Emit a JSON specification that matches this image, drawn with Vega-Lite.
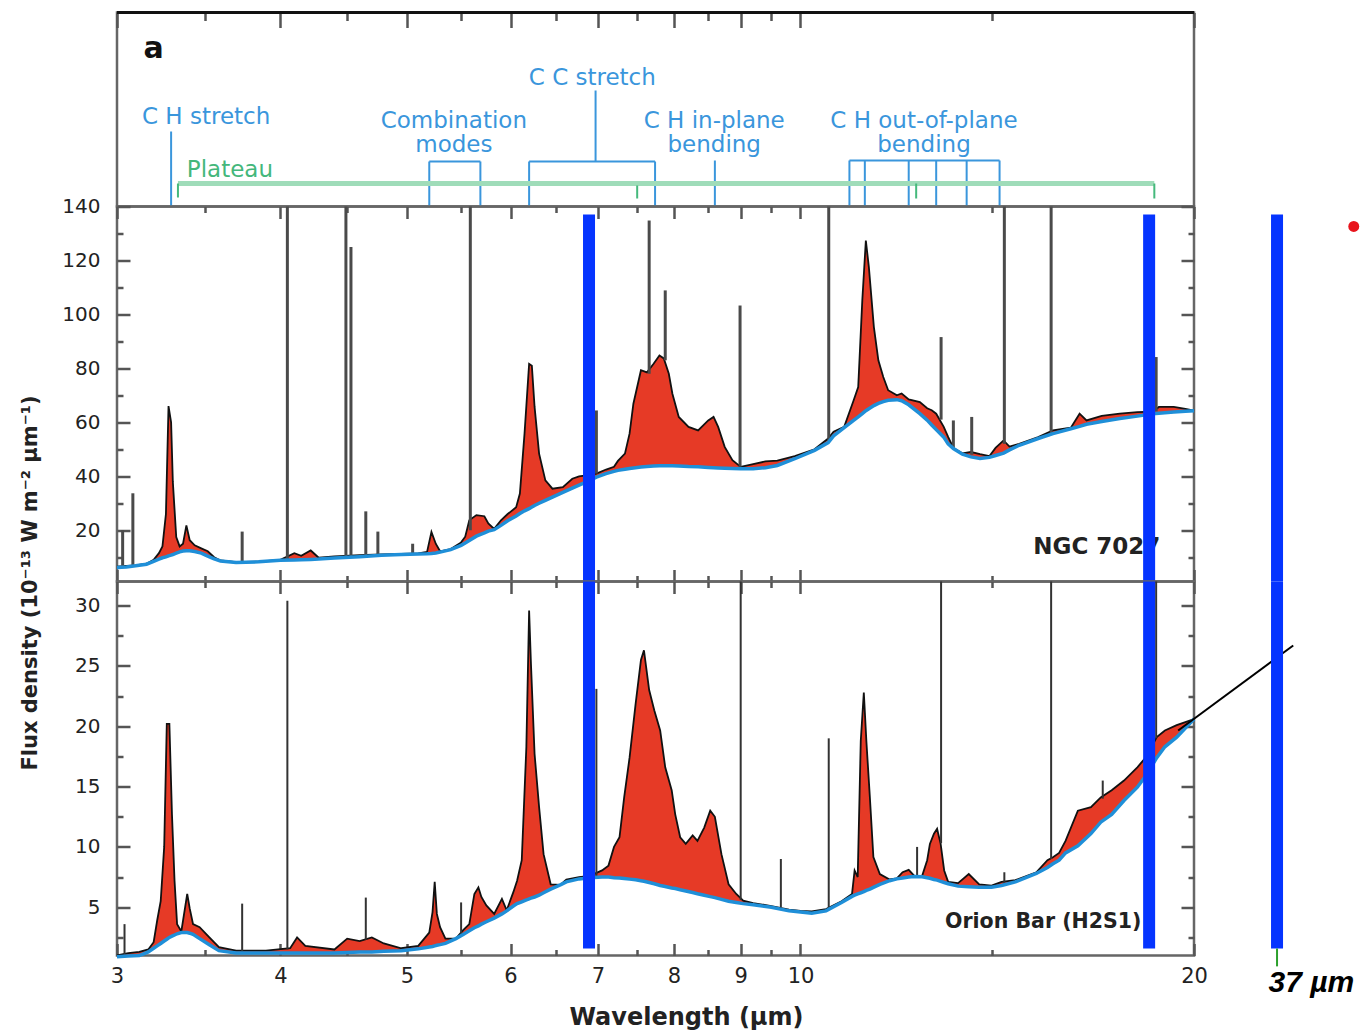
{
  "$schema": "https://vega.github.io/schema/vega-lite/v6.json",
  "padding": {"left": 17, "top": 9.5, "right": 0, "bottom": 0},
  "spacing": 0,
  "bounds": "flush",
  "resolve": {"scale": {"x": "independent", "y": "independent"}, "axis": {"x": "independent", "y": "independent"}},
  "config": {
    "view": {"stroke": "#666", "strokeWidth": 2.5},
    "axis": {"domain": false, "grid": false, "tickColor": "#555", "tickWidth": 2.5, "labelFont": "DejaVu Sans", "labelFontSize": 20, "labelColor": "#222", "titleFont": "DejaVu Sans", "titleFontWeight": "bold", "titleColor": "#222", "labelFlush": false, "labelOverlap": false},
    "text": {"font": "DejaVu Sans"}
  },
  "datasets": {
    "ngc": [
      {"w":3.00,"f":6.5,"c":6.2},{"w":3.05,"f":6.8,"c":6.4},{"w":3.10,"f":7.0,"c":6.8},{"w":3.16,"f":7.6,"c":7.4},
      {"w":3.20,"f":9.0,"c":8.5},{"w":3.23,"f":11.5,"c":9.3},{"w":3.25,"f":14,"c":9.8},{"w":3.27,"f":26,"c":10.1},
      {"w":3.285,"f":66,"c":10.5},{"w":3.30,"f":60,"c":10.8},{"w":3.31,"f":38,"c":11.0},{"w":3.33,"f":17.5,"c":11.5},
      {"w":3.35,"f":14,"c":12.0},{"w":3.37,"f":15,"c":12.3},{"w":3.39,"f":21.8,"c":12.4},{"w":3.41,"f":16.3,"c":12.4},
      {"w":3.44,"f":14.4,"c":12.1},{"w":3.48,"f":13.3,"c":11.5},{"w":3.52,"f":12.2,"c":10.4},{"w":3.56,"f":10.0,"c":9.4},
      {"w":3.60,"f":8.8,"c":8.6},{"w":3.70,"f":8.2,"c":8.0},{"w":3.85,"f":8.4,"c":8.3},{"w":4.00,"f":9.0,"c":8.9},
      {"w":4.10,"f":11.5,"c":9.0},{"w":4.15,"f":10.5,"c":9.1},{"w":4.22,"f":12.5,"c":9.2},{"w":4.28,"f":9.8,"c":9.3},
      {"w":4.40,"f":10.3,"c":9.7},{"w":4.60,"f":10.8,"c":10.2},{"w":4.78,"f":11.0,"c":10.7},{"w":4.95,"f":11.2,"c":11.0},
      {"w":5.10,"f":11.4,"c":11.2},{"w":5.18,"f":12.0,"c":11.3},{"w":5.22,"f":19.4,"c":11.4},{"w":5.26,"f":15.0,"c":11.6},
      {"w":5.30,"f":12.2,"c":11.9},{"w":5.40,"f":13.0,"c":12.8},{"w":5.50,"f":15.5,"c":14.4},{"w":5.54,"f":17.6,"c":15.3},
      {"w":5.58,"f":23.7,"c":16.2},{"w":5.65,"f":25.6,"c":17.8},{"w":5.73,"f":25.2,"c":19.0},{"w":5.77,"f":22.5,"c":19.7},
      {"w":5.83,"f":20.5,"c":20.2},{"w":5.90,"f":23.7,"c":21.8},{"w":5.97,"f":26.0,"c":23.5},{"w":6.06,"f":28.5,"c":25.3},
      {"w":6.10,"f":33.6,"c":26.2},{"w":6.15,"f":55.8,"c":27.2},{"w":6.20,"f":81.7,"c":28.0},{"w":6.23,"f":81.0,"c":28.6},
      {"w":6.26,"f":65.7,"c":29.2},{"w":6.31,"f":48.4,"c":30.0},{"w":6.38,"f":38.5,"c":31.1},{"w":6.46,"f":35.4,"c":32.3},
      {"w":6.58,"f":36.0,"c":34.0},{"w":6.69,"f":39.1,"c":35.6},{"w":6.77,"f":40.0,"c":36.7},{"w":6.90,"f":40.5,"c":38.5},
      {"w":6.98,"f":41.0,"c":39.7},{"w":7.10,"f":42.5,"c":41.0},{"w":7.20,"f":43.5,"c":41.8},{"w":7.25,"f":45.7,"c":42.2},
      {"w":7.34,"f":48.4,"c":42.6},{"w":7.40,"f":55.8,"c":42.9},{"w":7.45,"f":66.9,"c":43.1},{"w":7.55,"f":79.3,"c":43.4},
      {"w":7.63,"f":78.5,"c":43.6},{"w":7.72,"f":81.7,"c":43.8},{"w":7.80,"f":84.8,"c":43.9},{"w":7.86,"f":83.7,"c":43.9},
      {"w":7.93,"f":78.0,"c":43.9},{"w":7.98,"f":70.6,"c":43.9},{"w":8.07,"f":62.0,"c":43.8},{"w":8.21,"f":58.3,"c":43.6},
      {"w":8.35,"f":57.0,"c":43.5},{"w":8.50,"f":60.7,"c":43.3},{"w":8.58,"f":62.0,"c":43.2},{"w":8.65,"f":58.3,"c":43.1},
      {"w":8.75,"f":50.9,"c":43.0},{"w":8.87,"f":46.0,"c":42.9},{"w":9.00,"f":43.5,"c":42.8},{"w":9.20,"f":44.5,"c":42.8},
      {"w":9.40,"f":45.5,"c":43.2},{"w":9.60,"f":45.8,"c":44.0},{"w":9.90,"f":47.5,"c":46.5},{"w":10.25,"f":50.0,"c":49.6},
      {"w":10.50,"f":54.0,"c":52.5},{"w":10.60,"f":56.5,"c":55.0},{"w":10.80,"f":58.3,"c":58.0},{"w":10.98,"f":68.1,"c":60.7},
      {"w":11.07,"f":73.1,"c":62.0},{"w":11.15,"f":105.2,"c":63.2},{"w":11.22,"f":127.4,"c":64.3},{"w":11.28,"f":117.5,"c":65.0},
      {"w":11.38,"f":95.3,"c":66.2},{"w":11.47,"f":83.0,"c":67.0},{"w":11.57,"f":76.8,"c":67.7},{"w":11.67,"f":71.9,"c":68.2},
      {"w":11.85,"f":70.0,"c":68.4},{"w":11.95,"f":70.7,"c":68.0},{"w":12.10,"f":68.5,"c":66.5},{"w":12.34,"f":67.5,"c":63.2},
      {"w":12.50,"f":65.2,"c":60.8},{"w":12.60,"f":64.5,"c":59.0},{"w":12.70,"f":63.2,"c":57.3},{"w":12.87,"f":58.3,"c":54.5},
      {"w":12.97,"f":54.6,"c":52.0},{"w":13.09,"f":50.5,"c":50.3},{"w":13.30,"f":48.5,"c":48.2},{"w":13.50,"f":49.0,"c":47.2},
      {"w":13.72,"f":48.2,"c":46.6},{"w":13.95,"f":47.5,"c":47.0},{"w":14.10,"f":50.5,"c":47.7},{"w":14.30,"f":53.3,"c":48.6},
      {"w":14.45,"f":51.0,"c":49.8},{"w":14.70,"f":52.0,"c":51.5},{"w":15.20,"f":54.5,"c":54.0},{"w":15.60,"f":57.0,"c":55.8},
      {"w":16.10,"f":58.0,"c":57.6},{"w":16.35,"f":63.2,"c":58.5},{"w":16.55,"f":60.7,"c":59.3},{"w":17.00,"f":62.4,"c":60.3},
      {"w":17.55,"f":63.2,"c":61.4},{"w":18.10,"f":63.8,"c":62.3},{"w":18.60,"f":64.0,"c":63.2},{"w":18.80,"f":65.7,"c":63.4},
      {"w":19.30,"f":65.7,"c":63.8},{"w":19.70,"f":65.0,"c":64.1},{"w":20.00,"f":64.3,"c":64.3}
    ],
    "ngcLines": [
      {"w":3.03,"b":6.6,"t":20},{"w":3.085,"b":6.9,"t":33.7},{"w":3.74,"b":8.1,"t":19.5},{"w":4.05,"b":9.2,"t":140},
      {"w":4.49,"b":10,"t":140},{"w":4.53,"b":10,"t":125},{"w":4.65,"b":10.4,"t":27},{"w":4.75,"b":10.7,"t":19.5},
      {"w":5.05,"b":11.2,"t":15},{"w":5.59,"b":20,"t":140},{"w":6.98,"b":41,"t":64.4},{"w":7.66,"b":78,"t":134.8},
      {"w":7.88,"b":83,"t":108.9},{"w":8.99,"b":43.5,"t":103.3},{"w":10.51,"b":53,"t":140},{"w":12.81,"b":61,"t":91.6},
      {"w":13.09,"b":50.3,"t":60.7},{"w":13.52,"b":48,"t":62},{"w":14.32,"b":52,"t":140},{"w":15.55,"b":56,"t":140},
      {"w":18.71,"b":64,"t":84.2}
    ],
    "orion": [
      {"w":3.00,"f":1.0,"c":0.9},{"w":3.06,"f":1.2,"c":0.95},{"w":3.12,"f":1.3,"c":1.0},{"w":3.17,"f":1.5,"c":1.3},
      {"w":3.20,"f":2.1,"c":1.6},{"w":3.22,"f":3.9,"c":1.8},{"w":3.24,"f":5.5,"c":2.0},{"w":3.26,"f":10.0,"c":2.2},
      {"w":3.275,"f":20.2,"c":2.35},{"w":3.29,"f":20.2,"c":2.5},{"w":3.305,"f":12.7,"c":2.6},{"w":3.32,"f":7.2,"c":2.7},
      {"w":3.335,"f":3.6,"c":2.8},{"w":3.36,"f":3.0,"c":2.9},{"w":3.395,"f":6.1,"c":2.9},{"w":3.41,"f":4.9,"c":2.85},
      {"w":3.43,"f":3.6,"c":2.75},{"w":3.47,"f":3.35,"c":2.4},{"w":3.53,"f":2.5,"c":1.9},{"w":3.59,"f":1.7,"c":1.4},
      {"w":3.70,"f":1.4,"c":1.2},{"w":3.90,"f":1.4,"c":1.2},{"w":4.07,"f":1.6,"c":1.2},{"w":4.12,"f":2.5,"c":1.2},
      {"w":4.18,"f":1.8,"c":1.2},{"w":4.40,"f":1.5,"c":1.2},{"w":4.50,"f":2.4,"c":1.25},{"w":4.60,"f":2.2,"c":1.3},
      {"w":4.70,"f":2.5,"c":1.3},{"w":4.80,"f":2.0,"c":1.35},{"w":4.95,"f":1.6,"c":1.4},{"w":5.10,"f":1.8,"c":1.55},
      {"w":5.20,"f":2.9,"c":1.7},{"w":5.23,"f":4.6,"c":1.75},{"w":5.25,"f":7.1,"c":1.8},{"w":5.27,"f":4.45,"c":1.85},
      {"w":5.30,"f":3.35,"c":1.9},{"w":5.35,"f":2.4,"c":2.0},{"w":5.45,"f":2.4,"c":2.4},{"w":5.52,"f":3.1,"c":2.75},
      {"w":5.58,"f":3.6,"c":3.05},{"w":5.63,"f":6.1,"c":3.3},{"w":5.67,"f":6.65,"c":3.45},{"w":5.70,"f":5.85,"c":3.6},
      {"w":5.75,"f":5.15,"c":3.8},{"w":5.83,"f":4.45,"c":4.1},{"w":5.91,"f":5.7,"c":4.45},{"w":5.96,"f":4.75,"c":4.7},
      {"w":6.03,"f":6.25,"c":5.1},{"w":6.07,"f":7.2,"c":5.3},{"w":6.12,"f":8.9,"c":5.45},{"w":6.17,"f":18.3,"c":5.6},
      {"w":6.20,"f":29.6,"c":5.7},{"w":6.22,"f":25.2,"c":5.75},{"w":6.26,"f":17.7,"c":5.85},{"w":6.31,"f":13.3,"c":6.0},
      {"w":6.36,"f":9.4,"c":6.2},{"w":6.44,"f":6.9,"c":6.5},{"w":6.55,"f":6.85,"c":6.85},{"w":6.62,"f":7.3,"c":7.1},
      {"w":6.77,"f":7.5,"c":7.35},{"w":6.90,"f":7.6,"c":7.45},{"w":7.05,"f":8.05,"c":7.5},{"w":7.13,"f":8.45,"c":7.5},
      {"w":7.20,"f":10.0,"c":7.45},{"w":7.27,"f":10.8,"c":7.42},{"w":7.33,"f":14.1,"c":7.38},{"w":7.40,"f":17.4,"c":7.33},
      {"w":7.48,"f":21.9,"c":7.28},{"w":7.55,"f":25.5,"c":7.2},{"w":7.59,"f":26.3,"c":7.15},{"w":7.66,"f":23.0,"c":7.05},
      {"w":7.73,"f":21.3,"c":6.95},{"w":7.81,"f":19.65,"c":6.8},{"w":7.88,"f":16.6,"c":6.72},{"w":7.97,"f":14.7,"c":6.6},
      {"w":8.02,"f":12.7,"c":6.55},{"w":8.09,"f":10.8,"c":6.45},{"w":8.17,"f":10.25,"c":6.35},{"w":8.27,"f":10.95,"c":6.22},
      {"w":8.34,"f":10.5,"c":6.12},{"w":8.44,"f":11.6,"c":6.0},{"w":8.53,"f":13.0,"c":5.88},{"w":8.60,"f":12.5,"c":5.8},
      {"w":8.70,"f":9.4,"c":5.65},{"w":8.81,"f":6.9,"c":5.5},{"w":8.93,"f":6.1,"c":5.4},{"w":9.04,"f":5.55,"c":5.3},
      {"w":9.20,"f":5.35,"c":5.2},{"w":9.50,"f":5.1,"c":5.0},{"w":9.80,"f":4.8,"c":4.7},{"w":10.00,"f":4.7,"c":4.6},
      {"w":10.20,"f":4.65,"c":4.5},{"w":10.46,"f":4.85,"c":4.7},{"w":10.75,"f":5.5,"c":5.4},{"w":10.95,"f":6.1,"c":5.9},
      {"w":11.00,"f":8.05,"c":6.0},{"w":11.06,"f":7.5,"c":6.1},{"w":11.12,"f":18.8,"c":6.2},{"w":11.18,"f":22.8,"c":6.3},
      {"w":11.23,"f":18.8,"c":6.4},{"w":11.30,"f":14.1,"c":6.5},{"w":11.37,"f":9.15,"c":6.65},{"w":11.50,"f":7.75,"c":6.9},
      {"w":11.70,"f":7.3,"c":7.2},{"w":11.85,"f":7.4,"c":7.35},{"w":11.97,"f":7.9,"c":7.42},{"w":12.10,"f":8.1,"c":7.5},
      {"w":12.22,"f":7.6,"c":7.55},{"w":12.39,"f":7.6,"c":7.52},{"w":12.50,"f":8.9,"c":7.45},{"w":12.56,"f":10.25,"c":7.4},
      {"w":12.65,"f":11.1,"c":7.3},{"w":12.72,"f":11.5,"c":7.25},{"w":12.80,"f":10.25,"c":7.15},{"w":12.88,"f":8.05,"c":7.05},
      {"w":12.97,"f":7.1,"c":6.95},{"w":13.20,"f":7.0,"c":6.75},{"w":13.45,"f":7.75,"c":6.7},{"w":13.70,"f":6.9,"c":6.65},
      {"w":14.00,"f":6.8,"c":6.65},{"w":14.25,"f":7.1,"c":6.8},{"w":14.60,"f":7.25,"c":7.1},{"w":15.15,"f":7.9,"c":7.8},
      {"w":15.45,"f":8.9,"c":8.3},{"w":15.60,"f":9.15,"c":8.6},{"w":15.77,"f":9.5,"c":8.9},{"w":15.95,"f":10.5,"c":9.5},
      {"w":16.30,"f":13.0,"c":10.1},{"w":16.68,"f":13.3,"c":11.1},{"w":16.97,"f":14.1,"c":12.05},{"w":17.30,"f":14.7,"c":12.7},
      {"w":17.68,"f":15.5,"c":13.85},{"w":18.10,"f":16.6,"c":14.95},{"w":18.40,"f":17.5,"c":16.0},{"w":18.73,"f":19.1,"c":17.4},
      {"w":19.00,"f":19.65,"c":18.3},{"w":19.40,"f":20.1,"c":19.1},{"w":20.00,"f":20.6,"c":20.6}
    ],
    "orionLines": [
      {"w":3.04,"b":1.0,"t":3.6},{"w":3.74,"b":1.3,"t":5.3},{"w":4.05,"b":1.5,"t":30.4},{"w":4.65,"b":2.3,"t":5.8},
      {"w":5.5,"b":2.6,"t":5.4},{"w":6.98,"b":7.5,"t":23.1},{"w":9.0,"b":5.6,"t":32},{"w":9.66,"b":5.0,"t":9.0},
      {"w":10.51,"b":4.8,"t":19.0},{"w":12.28,"b":7.6,"t":10},{"w":12.81,"b":10.3,"t":32},{"w":14.32,"b":6.9,"t":7.9},
      {"w":15.55,"b":9.0,"t":32},{"w":17.03,"b":14,"t":15.5},{"w":18.71,"b":19,"t":32}
    ],
    "ann": [
      {"g":"blue","w":3.3,"w2":3.3,"h":0,"h2":75},
      {"g":"blue","w":5.2,"w2":5.2,"h":0,"h2":45},{"g":"blue","w":5.69,"w2":5.69,"h":0,"h2":45},{"g":"blue","w":5.2,"w2":5.69,"h":45,"h2":45},
      {"g":"blue","w":6.2,"w2":6.2,"h":0,"h2":45},{"g":"blue","w":7.74,"w2":7.74,"h":0,"h2":45},{"g":"blue","w":6.2,"w2":7.74,"h":45,"h2":45},
      {"g":"blue","w":6.97,"w2":6.97,"h":45,"h2":116},
      {"g":"blue","w":8.6,"w2":8.6,"h":0,"h2":46},
      {"g":"blue","w":10.9,"w2":10.9,"h":0,"h2":46},{"g":"blue","w":11.2,"w2":11.2,"h":0,"h2":46},{"g":"blue","w":12.1,"w2":12.1,"h":0,"h2":46},
      {"g":"blue","w":12.7,"w2":12.7,"h":0,"h2":46},{"g":"blue","w":13.4,"w2":13.4,"h":0,"h2":46},{"g":"blue","w":14.2,"w2":14.2,"h":0,"h2":46},
      {"g":"blue","w":10.9,"w2":14.2,"h":46,"h2":46},
      {"g":"plateau","w":3.34,"w2":18.65,"h":23,"h2":23},
      {"g":"ptick","w":3.34,"w2":3.34,"h":9,"h2":23},{"g":"ptick","w":7.5,"w2":7.5,"h":8,"h2":21},
      {"g":"ptick","w":12.26,"w2":12.26,"h":8,"h2":23},{"g":"ptick","w":18.65,"w2":18.65,"h":8,"h2":23},
      {"g":"frame","w":3,"w2":20,"h":194,"h2":194}
    ],
    "annText": [
      {"g":"blue","label":"C H stretch","w":3.51,"h":89.5},
      {"g":"blue","label":"Combination","w":5.43,"h":85.5},{"g":"blue","label":"modes","w":5.43,"h":61.5},
      {"g":"blue","label":"C C stretch","w":6.93,"h":128.5},
      {"g":"blue","label":"C H in-plane","w":8.59,"h":85.5},{"g":"blue","label":"bending","w":8.59,"h":61.5},
      {"g":"blue","label":"C H out-of-plane","w":12.43,"h":85.5},{"g":"blue","label":"bending","w":12.43,"h":61.5},
      {"g":"green","label":"Plateau","w":3.66,"h":36.5},
      {"g":"black","label":"a","w":3.2,"h":158}
    ],
    "barsMid": [{"w":6.89,"v1":137.04,"v2":1},{"w":18.48,"v1":137.04,"v2":1},{"w":23.15,"v1":137.04,"v2":1}],
    "barsBot": [{"w":6.89,"v1":32,"v2":1.58},{"w":18.48,"v1":32,"v2":1.58},{"w":23.15,"v1":32,"v2":1.58}]
  },
  "vconcat": [
    {
      "width": 1077, "height": 194,
      "resolve": {"axis": {"x": "independent", "y": "independent"}},
      "layer": [
        {"data": {"name": "ann"}, "transform": [{"filter": "datum.g === 'blue'"}],
         "mark": {"type": "rule", "color": "#3a96dc", "strokeWidth": 2},
         "encoding": {
           "x": {"field": "w", "type": "quantitative", "scale": {"type": "log", "domain": [3, 20], "nice": false},
                 "axis": {"orient": "top", "values": [3,4,5,6,7,8,9,10,20], "tickSize": 15, "offset": -15, "labels": false, "title": null}},
           "x2": {"field": "w2"},
           "y": {"field": "h", "type": "quantitative", "scale": {"domain": [0, 194], "nice": false, "zero": false}, "axis": null},
           "y2": {"field": "h2"}}},
        {"data": {"name": "ann"}, "transform": [{"filter": "datum.g === 'plateau'"}],
         "mark": {"type": "rule", "color": "#9fdcb9", "strokeWidth": 5},
         "encoding": {
           "x": {"field": "w", "type": "quantitative", "scale": {"type": "log", "domain": [3, 20], "nice": false},
                 "axis": {"orient": "top", "values": [3.5,4.5,5.5,6.5,7.5,8.5,9.5,14], "tickSize": 8, "offset": -8, "labels": false, "title": null}},
           "x2": {"field": "w2"},
           "y": {"field": "h", "type": "quantitative", "scale": {"domain": [0, 194], "nice": false, "zero": false}, "axis": null},
           "y2": {"field": "h2"}}},
        {"data": {"name": "ann"}, "transform": [{"filter": "datum.g === 'ptick'"}],
         "mark": {"type": "rule", "color": "#45b97c", "strokeWidth": 2},
         "encoding": {
           "x": {"field": "w", "type": "quantitative", "scale": {"type": "log", "domain": [3, 20], "nice": false}, "axis": null},
           "x2": {"field": "w2"},
           "y": {"field": "h", "type": "quantitative", "scale": {"domain": [0, 194], "nice": false, "zero": false}, "axis": null},
           "y2": {"field": "h2"}}},
        {"data": {"name": "ann"}, "transform": [{"filter": "datum.g === 'frame'"}],
         "mark": {"type": "rule", "color": "#111", "strokeWidth": 3},
         "encoding": {
           "x": {"field": "w", "type": "quantitative", "scale": {"type": "log", "domain": [3, 20], "nice": false}, "axis": null},
           "x2": {"field": "w2"},
           "y": {"field": "h", "type": "quantitative", "scale": {"domain": [0, 194], "nice": false, "zero": false}, "axis": null},
           "y2": {"field": "h2"}}},
        {"data": {"name": "annText"}, "transform": [{"filter": "datum.g === 'blue'"}],
         "mark": {"type": "text", "font": "DejaVu Sans", "fontSize": 23, "color": "#3a96dc", "align": "center", "baseline": "middle"},
         "encoding": {
           "x": {"field": "w", "type": "quantitative", "scale": {"type": "log", "domain": [3, 20], "nice": false}, "axis": null},
           "y": {"field": "h", "type": "quantitative", "scale": {"domain": [0, 194], "nice": false, "zero": false}, "axis": null},
           "text": {"field": "label"}}},
        {"data": {"name": "annText"}, "transform": [{"filter": "datum.g === 'green'"}],
         "mark": {"type": "text", "font": "DejaVu Sans", "fontSize": 23, "color": "#44b77b", "align": "center", "baseline": "middle"},
         "encoding": {
           "x": {"field": "w", "type": "quantitative", "scale": {"type": "log", "domain": [3, 20], "nice": false}, "axis": null},
           "y": {"field": "h", "type": "quantitative", "scale": {"domain": [0, 194], "nice": false, "zero": false}, "axis": null},
           "text": {"field": "label"}}},
        {"data": {"name": "annText"}, "transform": [{"filter": "datum.g === 'black'"}],
         "mark": {"type": "text", "font": "DejaVu Sans", "fontSize": 30, "fontWeight": "bold", "color": "#111", "align": "center", "baseline": "middle"},
         "encoding": {
           "x": {"field": "w", "type": "quantitative", "scale": {"type": "log", "domain": [3, 20], "nice": false}, "axis": null},
           "y": {"field": "h", "type": "quantitative", "scale": {"domain": [0, 194], "nice": false, "zero": false}, "axis": null},
           "text": {"field": "label"}}}
      ]
    },
    {
      "width": 1077, "height": 375,
      "resolve": {"axis": {"x": "independent", "y": "independent"}},
      "layer": [
        {"data": {"name": "ngc"}, "mark": {"type": "area", "color": "#e63a26"},
         "encoding": {
           "x": {"field": "w", "type": "quantitative", "scale": {"type": "log", "domain": [3, 20], "nice": false},
                 "axis": {"orient": "top", "values": [3,4,5,6,7,8,9,10,20], "tickSize": 12, "offset": -12, "labels": false, "title": null}},
           "y": {"field": "f", "type": "quantitative", "scale": {"domain": [1, 140], "nice": false, "zero": false},
                 "axis": {"orient": "left", "values": [20,40,60,80,100,120,140], "tickSize": 13, "offset": -13, "labelPadding": 17, "title": null}},
           "y2": {"field": "c"}}},
        {"data": {"name": "ngc"}, "mark": {"type": "line", "color": "#111", "strokeWidth": 1.8},
         "encoding": {
           "x": {"field": "w", "type": "quantitative", "scale": {"type": "log", "domain": [3, 20], "nice": false},
                 "axis": {"orient": "top", "values": [3.5,4.5,5.5,6.5,7.5,8.5,9.5,14], "tickSize": 6, "offset": -6, "labels": false, "title": null}},
           "y": {"field": "f", "type": "quantitative", "scale": {"domain": [1, 140], "nice": false, "zero": false},
                 "axis": {"orient": "left", "values": [10,30,50,70,90,110,130], "tickSize": 6, "offset": -6, "labels": false, "title": null}}}},
        {"data": {"name": "ngcLines"}, "mark": {"type": "rule", "color": "#4a4a4a", "strokeWidth": 3},
         "encoding": {
           "x": {"field": "w", "type": "quantitative", "scale": {"type": "log", "domain": [3, 20], "nice": false},
                 "axis": {"orient": "bottom", "values": [3,4,5,6,7,8,9,10,20], "tickSize": 12, "offset": -12, "labels": false, "title": null}},
           "y": {"field": "b", "type": "quantitative", "scale": {"domain": [1, 140], "nice": false, "zero": false},
                 "axis": {"orient": "right", "values": [20,40,60,80,100,120,140], "tickSize": 13, "offset": -13, "labels": false, "title": null}},
           "y2": {"field": "t"}}},
        {"data": {"name": "ngc"}, "mark": {"type": "line", "color": "#1f8fd8", "strokeWidth": 3.5},
         "encoding": {
           "x": {"field": "w", "type": "quantitative", "scale": {"type": "log", "domain": [3, 20], "nice": false},
                 "axis": {"orient": "bottom", "values": [3.5,4.5,5.5,6.5,7.5,8.5,9.5,14], "tickSize": 6, "offset": -6, "labels": false, "title": null}},
           "y": {"field": "c", "type": "quantitative", "scale": {"domain": [1, 140], "nice": false, "zero": false},
                 "axis": {"orient": "right", "values": [10,30,50,70,90,110,130], "tickSize": 6, "offset": -6, "labels": false, "title": null}}}},
        {"data": {"values": [{"label": "NGC 7027", "w": 15.07, "v": 13.7}]},
         "mark": {"type": "text", "font": "DejaVu Sans", "fontSize": 23, "fontWeight": "bold", "color": "#222", "align": "left", "baseline": "middle"},
         "encoding": {
           "x": {"field": "w", "type": "quantitative", "scale": {"type": "log", "domain": [3, 20], "nice": false}, "axis": null},
           "y": {"field": "v", "type": "quantitative", "scale": {"domain": [1, 140], "nice": false, "zero": false}, "axis": null},
           "text": {"field": "label"}}},
        {"data": {"name": "barsMid"}, "mark": {"type": "rule", "color": "#0534ff", "strokeWidth": 12},
         "encoding": {
           "x": {"field": "w", "type": "quantitative", "scale": {"type": "log", "domain": [3, 20], "nice": false}, "axis": null},
           "y": {"field": "v1", "type": "quantitative", "scale": {"domain": [1, 140], "nice": false, "zero": false}, "axis": null},
           "y2": {"field": "v2"}}},
        {"data": {"values": [{"w": 26.5, "v": 132.6}]},
         "mark": {"type": "circle", "color": "#e8141c", "opacity": 1, "size": 120},
         "encoding": {
           "x": {"field": "w", "type": "quantitative", "scale": {"type": "log", "domain": [3, 20], "nice": false}, "axis": null},
           "y": {"field": "v", "type": "quantitative", "scale": {"domain": [1, 140], "nice": false, "zero": false}, "axis": null}}}
      ]
    },
    {
      "width": 1077, "height": 374,
      "resolve": {"axis": {"x": "independent", "y": "independent"}},
      "layer": [
        {"data": {"name": "orion"}, "mark": {"type": "area", "color": "#e63a26"},
         "encoding": {
           "x": {"field": "w", "type": "quantitative", "scale": {"type": "log", "domain": [3, 20], "nice": false},
                 "axis": {"orient": "bottom", "values": [3,4,5,6,7,8,9,10,20], "format": "d", "tickSize": 12, "offset": -12, "labelPadding": 10, "labelFontSize": 21,
                          "title": "Wavelength (µm)", "titleFontSize": 24, "titleX": 569, "titleY": 74, "titleBaseline": "middle", "titleAlign": "center"}},
           "y": {"field": "f", "type": "quantitative", "scale": {"domain": [1, 32], "nice": false, "zero": false},
                 "axis": {"orient": "left", "values": [5,10,15,20,25,30], "tickSize": 13, "offset": -13, "labelPadding": 17,
                          "title": "Flux density (10⁻¹³ W m⁻² µm⁻¹)", "titleFontSize": 21, "titleX": -100, "titleY": 1, "titleAlign": "center", "titleBaseline": "middle"}},
           "y2": {"field": "c"}}},
        {"data": {"name": "orion"}, "mark": {"type": "line", "color": "#111", "strokeWidth": 1.8},
         "encoding": {
           "x": {"field": "w", "type": "quantitative", "scale": {"type": "log", "domain": [3, 20], "nice": false},
                 "axis": {"orient": "bottom", "values": [3.5,4.5,5.5,6.5,7.5,8.5,9.5,14], "tickSize": 6, "offset": -6, "labels": false, "title": null}},
           "y": {"field": "f", "type": "quantitative", "scale": {"domain": [1, 32], "nice": false, "zero": false},
                 "axis": {"orient": "left", "values": [2.5,7.5,12.5,17.5,22.5,27.5], "tickSize": 6, "offset": -6, "labels": false, "title": null}}}},
        {"data": {"name": "orionLines"}, "mark": {"type": "rule", "color": "#333", "strokeWidth": 2},
         "encoding": {
           "x": {"field": "w", "type": "quantitative", "scale": {"type": "log", "domain": [3, 20], "nice": false},
                 "axis": {"orient": "top", "values": [3,4,5,6,7,8,9,10,20], "tickSize": 12, "offset": -12, "labels": false, "title": null}},
           "y": {"field": "b", "type": "quantitative", "scale": {"domain": [1, 32], "nice": false, "zero": false},
                 "axis": {"orient": "right", "values": [5,10,15,20,25,30], "tickSize": 13, "offset": -13, "labels": false, "title": null}},
           "y2": {"field": "t"}}},
        {"data": {"name": "orion"}, "mark": {"type": "line", "color": "#1f8fd8", "strokeWidth": 3.5},
         "encoding": {
           "x": {"field": "w", "type": "quantitative", "scale": {"type": "log", "domain": [3, 20], "nice": false},
                 "axis": {"orient": "top", "values": [3.5,4.5,5.5,6.5,7.5,8.5,9.5,14], "tickSize": 6, "offset": -6, "labels": false, "title": null}},
           "y": {"field": "c", "type": "quantitative", "scale": {"domain": [1, 32], "nice": false, "zero": false},
                 "axis": {"orient": "right", "values": [2.5,7.5,12.5,17.5,22.5,27.5], "tickSize": 6, "offset": -6, "labels": false, "title": null}}}},
        {"data": {"values": [{"label": "Orion Bar (H2S1)", "w": 12.9, "v": 3.8}]},
         "mark": {"type": "text", "font": "DejaVu Sans", "fontSize": 20.5, "fontWeight": "bold", "color": "#222", "align": "left", "baseline": "middle"},
         "encoding": {
           "x": {"field": "w", "type": "quantitative", "scale": {"type": "log", "domain": [3, 20], "nice": false}, "axis": null},
           "y": {"field": "v", "type": "quantitative", "scale": {"domain": [1, 32], "nice": false, "zero": false}, "axis": null},
           "text": {"field": "label"}}},
        {"data": {"values": [{"w1": 19.45, "v1": 19.65, "w2": 23.82, "v2": 26.7}]},
         "mark": {"type": "rule", "color": "#000", "strokeWidth": 2},
         "encoding": {
           "x": {"field": "w1", "type": "quantitative", "scale": {"type": "log", "domain": [3, 20], "nice": false}, "axis": null},
           "x2": {"field": "w2"},
           "y": {"field": "v1", "type": "quantitative", "scale": {"domain": [1, 32], "nice": false, "zero": false}, "axis": null},
           "y2": {"field": "v2"}}},
        {"data": {"name": "barsBot"}, "mark": {"type": "rule", "color": "#0534ff", "strokeWidth": 12},
         "encoding": {
           "x": {"field": "w", "type": "quantitative", "scale": {"type": "log", "domain": [3, 20], "nice": false}, "axis": null},
           "y": {"field": "v1", "type": "quantitative", "scale": {"domain": [1, 32], "nice": false, "zero": false}, "axis": null},
           "y2": {"field": "v2"}}},
        {"data": {"values": [{"w": 23.15, "v1": 1.58, "v2": 0.1}]},
         "mark": {"type": "rule", "color": "#2ca02c", "strokeWidth": 2},
         "encoding": {
           "x": {"field": "w", "type": "quantitative", "scale": {"type": "log", "domain": [3, 20], "nice": false}, "axis": null},
           "y": {"field": "v1", "type": "quantitative", "scale": {"domain": [1, 32], "nice": false, "zero": false}, "axis": null},
           "y2": {"field": "v2"}}},
        {"data": {"values": [{"label": "37 µm", "w": 24.59, "v": -1.24}]},
         "mark": {"type": "text", "font": "Liberation Sans", "fontSize": 30, "fontWeight": "bold", "fontStyle": "italic", "color": "#000", "align": "center", "baseline": "middle"},
         "encoding": {
           "x": {"field": "w", "type": "quantitative", "scale": {"type": "log", "domain": [3, 20], "nice": false}, "axis": null},
           "y": {"field": "v", "type": "quantitative", "scale": {"domain": [1, 32], "nice": false, "zero": false}, "axis": null},
           "text": {"field": "label"}}}
      ]
    }
  ]
}
